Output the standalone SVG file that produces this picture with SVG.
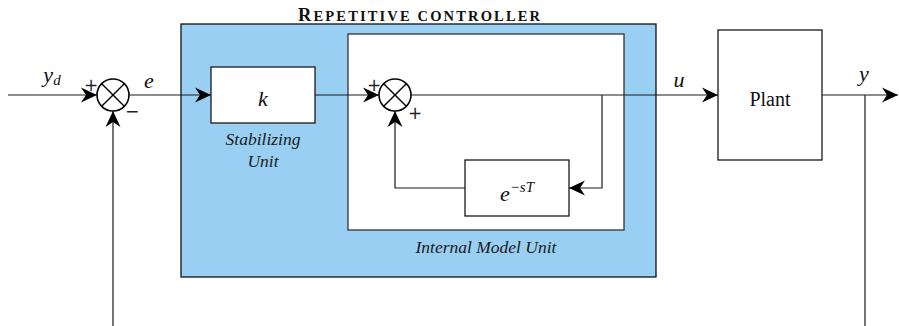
<svg xmlns="http://www.w3.org/2000/svg" width="899" height="326" viewBox="0 0 899 326">
<style>
.ln{fill:none;stroke:#1a1a1a;stroke-width:1.2}
.box{fill:#fff;stroke:#1a1a1a;stroke-width:1.3}
.sum{fill:#fff;stroke:#000;stroke-width:1.6}
.x{stroke:#000;stroke-width:1.4}
.math{font-family:"Liberation Serif",serif;font-style:italic;font-size:22px;fill:#111}
.sup{font-family:"Liberation Serif",serif;font-style:italic;font-size:15px;fill:#111}
.lbl{font-family:"Liberation Serif",serif;font-style:italic;font-size:17.5px;fill:#1a1a1a}
.sign{font-family:"DejaVu Sans",sans-serif;font-size:17px;fill:#222}
.plant{font-family:"Liberation Serif",serif;font-size:20px;fill:#111}
.title{font-family:"Liberation Serif",serif;font-weight:bold;fill:#111}
</style>
<defs>
<marker id="ah" markerUnits="userSpaceOnUse" markerWidth="18" markerHeight="18" viewBox="-17 -9 18 18" refX="0" refY="0" orient="auto">
<path d="M0,0 L-16,-7.5 L-11,0 L-16,7.5 Z" fill="#000"/>
</marker>
</defs>
<rect width="899" height="326" fill="#fff"/>
<g id="repetitive-controller">
<rect x="181" y="24" width="475" height="253" fill="#99cff3" stroke="#111" stroke-width="1.3"/>
<text class="title" x="298" y="20.5" textLength="242" lengthAdjust="spacing"><tspan font-size="18.5">R</tspan><tspan font-size="14.5">EPETITIVE CONTROLLER</tspan></text>
</g>
<g id="internal-model-unit">
<rect x="348" y="34" width="276" height="196" fill="#fff" stroke="#333" stroke-width="1.3"/>
<text class="lbl" x="486" y="253" text-anchor="middle">Internal Model Unit</text>
</g>
<g id="sum1">
<circle class="sum" cx="113" cy="95" r="16"/>
<line class="x" x1="101.7" y1="83.7" x2="124.3" y2="106.3"/>
<line class="x" x1="101.7" y1="106.3" x2="124.3" y2="83.7"/>
<text class="sign" x="91" y="91" text-anchor="middle">+</text>
<text class="sign" x="132" y="117" text-anchor="middle">−</text>
</g>
<g id="stabilizing-unit">
<rect class="box" x="211" y="67" width="104" height="56"/>
<text class="math" x="263" y="106" text-anchor="middle">k</text>
<text class="lbl" x="263" y="145" text-anchor="middle">Stabilizing</text>
<text class="lbl" x="263" y="167" text-anchor="middle">Unit</text>
</g>
<g id="sum2">
<circle class="sum" cx="395" cy="95" r="16"/>
<line class="x" x1="383.7" y1="83.7" x2="406.3" y2="106.3"/>
<line class="x" x1="383.7" y1="106.3" x2="406.3" y2="83.7"/>
<text class="sign" x="374" y="91" text-anchor="middle">+</text>
<text class="sign" x="415" y="119" text-anchor="middle">+</text>
</g>
<g id="delay">
<rect class="box" x="465" y="160" width="104" height="56"/>
<text x="517" y="201" text-anchor="middle"><tspan class="math">e</tspan><tspan class="sup" dy="-9">−sT</tspan></text>
</g>
<g id="plant">
<rect class="box" x="718" y="30" width="104" height="130"/>
<text class="plant" x="770" y="106" text-anchor="middle">Plant</text>
</g>
<g id="connectors">
<path class="ln" d="M8,95 H97" marker-end="url(#ah)"/>
<path class="ln" d="M129,95 H211" marker-end="url(#ah)"/>
<path class="ln" d="M315,95 H379" marker-end="url(#ah)"/>
<path class="ln" d="M411,95 H718" marker-end="url(#ah)"/>
<path class="ln" d="M822,95 H898" marker-end="url(#ah)"/>
<path class="ln" d="M865,95 V326"/>
<path class="ln" d="M113,326 V111" marker-end="url(#ah)"/>
<path class="ln" d="M602,95 V188 H569" marker-end="url(#ah)"/>
<path class="ln" d="M465,188 H395 V111" marker-end="url(#ah)"/>
<text class="math" x="52" y="82" text-anchor="middle">y<tspan class="sup" dy="3">d</tspan></text>
<text class="math" x="149" y="88" text-anchor="middle">e</text>
<text class="math" x="679" y="87" text-anchor="middle">u</text>
<text class="math" x="864" y="81" text-anchor="middle">y</text>
</g>
</svg>
